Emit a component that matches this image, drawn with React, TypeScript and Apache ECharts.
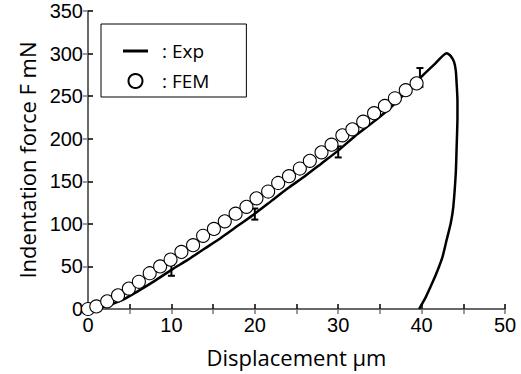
import React, { useEffect, useRef } from 'react';
import * as echarts from 'echarts';

// Experimental loading branch (displacement µm, force mN)
const expLoadX = [0, 2, 4, 6, 8, 10, 12, 14, 16, 18, 20, 22, 24, 26, 28, 30, 32, 34, 36, 38, 40, 41.5, 43.0];
const expLoadF = [0, 3, 10, 21, 33, 46, 58, 71, 84, 98, 112, 127, 142, 156, 171, 186, 203, 218, 234, 253, 273, 287, 300.5];
// Experimental unloading branch
const expUnloadX = [43.5, 43.9, 44.1, 44.2, 44.3, 44.3, 44.2, 44.1, 43.8, 43.5, 43.0, 42.5, 41.9, 41.3, 40.5, 39.7];
const expUnloadF = [297, 290, 280, 265, 245, 225, 190, 160, 120, 101, 81, 61, 45, 31, 14, 0];
// FEM results
const femX = [0, 1.0, 2.3, 3.6, 4.9, 6.1, 7.4, 8.65, 9.9, 11.2, 12.6, 13.8, 15.1, 16.4, 17.7, 19.0, 20.2, 21.6, 22.8, 24.1, 25.4, 26.6, 28.0, 29.2, 30.5, 31.7, 33.0, 34.3, 35.6, 36.8, 38.1, 39.4];
const femF = [0, 3, 9, 16, 24, 32, 42, 50, 58, 67, 75, 86, 94, 103, 112, 120, 130, 138, 148, 156, 165, 174, 184, 193, 204, 211, 220, 230, 238.5, 247.5, 257, 265];
// Error bars
const errX = [10, 20, 30, 39.8];
const errLow = [39, 105, 178, 261];
const errHigh = [52, 118, 191, 283];

const expName = ': Exp';
const femName = ': FEM';

export default function App() {
  const ref = useRef<HTMLDivElement>(null);
  useEffect(() => {
    if (!ref.current) return;
    const chart = echarts.init(ref.current, null, { renderer: 'svg' });
    const expData: number[][] = [];
    expLoadX.forEach((x, i) => expData.push([x, expLoadF[i]]));
    expUnloadX.forEach((x, i) => expData.push([x, expUnloadF[i]]));
    const femData = femX.map((x, i) => [x, femF[i]]);
    const errData = errX.map((x, i) => [x, errLow[i], errHigh[i]]);
    const tickFont = { fontFamily: 'Liberation Sans', fontSize: 20, color: '#000' };
    const titleFont = { fontFamily: 'Open Sans', fontSize: 22, color: '#000' };
    chart.setOption({
      animation: false,
      backgroundColor: '#fff',
      grid: { left: 88, right: 16, top: 11, bottom: 65 },
      legend: {
        left: 101,
        top: 24,
        orient: 'vertical',
        symbolKeepAspect: true,
        data: [
          { name: expName, icon: 'path://M0,0L25,0L25,3L0,3Z' },
          { name: femName, icon: 'circle' },
        ],
        itemWidth: 25,
        itemHeight: 14,
        itemGap: 6,
        borderColor: '#000',
        borderWidth: 1,
        borderRadius: 0,
        padding: [15, 37, 4, 22],
        textStyle: { fontFamily: 'Open Sans', fontSize: 19, color: '#000', lineHeight: 24, padding: [0, 0, 0, 9] },
      },
      xAxis: [
        {
          type: 'value', min: 0, max: 50, interval: 5,
          name: 'Displacement μm', nameLocation: 'middle', nameGap: 37, nameTextStyle: titleFont,
          axisLine: { lineStyle: { color: '#000', width: 1.5 } },
          axisTick: { inside: true, length: 5, lineStyle: { color: '#000', width: 1.5 } },
          axisLabel: { ...tickFont, margin: 6, formatter: (v: number) => (v % 10 === 0 ? String(v) : '') },
          splitLine: { show: false },
        },
        {
          type: 'value', min: 0, max: 50, interval: 5, position: 'top',
          axisLine: { lineStyle: { color: '#777', width: 1.5 } },
          axisTick: { inside: true, length: 5, lineStyle: { color: '#777', width: 1.5 } },
          axisLabel: { show: false },
          splitLine: { show: false },
        },
      ],
      yAxis: [
        {
          type: 'value', min: 0, max: 350, interval: 50,
          name: 'Indentation force F mN', nameLocation: 'middle', nameGap: 50, nameTextStyle: titleFont,
          axisLine: { lineStyle: { color: '#000', width: 1.5 } },
          axisTick: { inside: true, length: 5, lineStyle: { color: '#000', width: 1.5 } },
          axisLabel: { ...tickFont, margin: 5 },
          splitLine: { show: false },
        },
        {
          type: 'value', min: 0, max: 350, interval: 50, position: 'right',
          axisLine: { lineStyle: { color: '#777', width: 1.5 } },
          axisTick: { inside: true, length: 5, lineStyle: { color: '#777', width: 1.5 } },
          axisLabel: { show: false },
          splitLine: { show: false },
        },
      ],
      series: [
        {
          name: expName,
          type: 'line',
          data: expData,
          showSymbol: false,
          symbol: 'none',
          smooth: 0.2,
          lineStyle: { color: '#000', width: 2.5 },
          itemStyle: { color: '#000' },
          z: 2,
        },
        {
          type: 'custom',
          data: errData,
          z: 3,
          renderItem: (params: any, api: any) => {
            const x = api.value(0);
            const lo = api.coord([x, api.value(1)]);
            const hi = api.coord([x, api.value(2)]);
            const w = 3.5;
            const st = { stroke: '#000', lineWidth: 2 };
            return {
              type: 'group',
              children: [
                { type: 'line', shape: { x1: lo[0], y1: lo[1], x2: hi[0], y2: hi[1] }, style: st },
                { type: 'line', shape: { x1: lo[0] - w, y1: lo[1], x2: lo[0] + w, y2: lo[1] }, style: st },
                { type: 'line', shape: { x1: hi[0] - w, y1: hi[1], x2: hi[0] + w, y2: hi[1] }, style: st },
              ],
            };
          },
        },
        {
          name: femName,
          type: 'scatter',
          data: femData,
          symbol: 'circle',
          symbolSize: 13,
          itemStyle: { color: '#fff', borderColor: '#000', borderWidth: 1.1, opacity: 1 },
          z: 4,
        },
      ],
    });
    return () => chart.dispose();
  }, []);
  return <div ref={ref} style={{ width: 521, height: 374, position: 'absolute', left: 0, top: 0 }} />;
}
